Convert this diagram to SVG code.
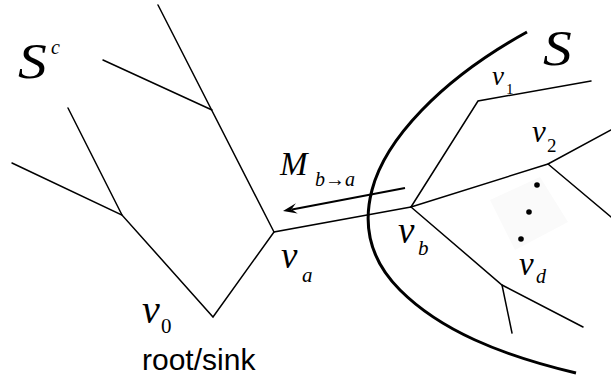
<svg xmlns="http://www.w3.org/2000/svg" width="611" height="377" viewBox="0 0 611 377">
<style>
.t{fill:none;stroke:#000;stroke-width:1.5;stroke-linecap:round;stroke-linejoin:miter}
.m{font-family:'Liberation Serif','DejaVu Serif',serif;font-style:italic;fill:#000}
.r{font-family:'Liberation Serif','DejaVu Serif',serif;fill:#000}
.s{font-family:'Liberation Sans',Arial,sans-serif;fill:#000}
</style>
<rect width="611" height="377" fill="#fff"/>
<polygon points="490,200 540,177 568,222 515,250" fill="#fafafa"/>
<g id="connectors">
<path class="t" d="M158,5 L274,232"/>
<path class="t" d="M103,60 L212,110"/>
<path class="t" d="M68,108 L122,215"/>
<path class="t" d="M12,163 L122,215 L213,317 L274,232 L411,207"/>
<path class="t" d="M411,207 L478,101 L591,81"/>
<path class="t" d="M411,207 L548,164 L611,130"/>
<path class="t" d="M548,164 L611,217"/>
<path class="t" d="M411,207 L502,285 L583,327"/>
<path class="t" d="M502,285 L512,333"/>
<path d="M527,32 C440,80 385,140 372,190 C362,228 372,262 400,290 C440,330 500,355 576,373" fill="none" stroke="#000" stroke-width="3"/>
<line x1="405" y1="188" x2="292" y2="209.5" stroke="#000" stroke-width="2"/>
<path d="M283,211 L297.7,213.6 L291.5,209.3 L295.9,203.3 Z" fill="#000"/>
</g>
<g id="dots">
<circle cx="537" cy="185" r="2.8"/>
<circle cx="529" cy="212" r="2.8"/>
<circle cx="521" cy="239" r="2.8"/>
</g>
<g id="Sc"><text class="m" font-size="50" transform="translate(18,78) scale(1.15,1)">S</text><text class="m" x="51" y="54" font-size="20">c</text></g>
<g id="S"><text class="m" font-size="50" transform="translate(543,65) scale(1.15,1)">S</text></g>
<g id="M"><text class="m" x="280" y="175" font-size="33">M</text><text class="m" x="315" y="186" font-size="20">b→a</text></g>
<g id="va"><text class="m" x="281" y="268" font-size="37">v</text><text class="m" x="302" y="282" font-size="21">a</text></g>
<g id="vb"><text class="m" x="398" y="243" font-size="37">v</text><text class="m" x="418" y="255" font-size="21">b</text></g>
<g id="v0"><text class="m" x="142" y="323" font-size="40">v</text><text class="r" x="161" y="333" font-size="21">0</text></g>
<g id="v1"><text class="m" x="492" y="85" font-size="27">v</text><text class="r" x="506" y="94" font-size="15">1</text></g>
<g id="v2"><text class="m" x="532" y="142" font-size="31">v</text><text class="r" x="547" y="152" font-size="19">2</text></g>
<g id="vd"><text class="m" x="519" y="275" font-size="33">v</text><text class="m" x="536" y="283" font-size="20">d</text></g>
<g id="root"><text class="s" x="142" y="370" font-size="30">root/sink</text></g>
</svg>
